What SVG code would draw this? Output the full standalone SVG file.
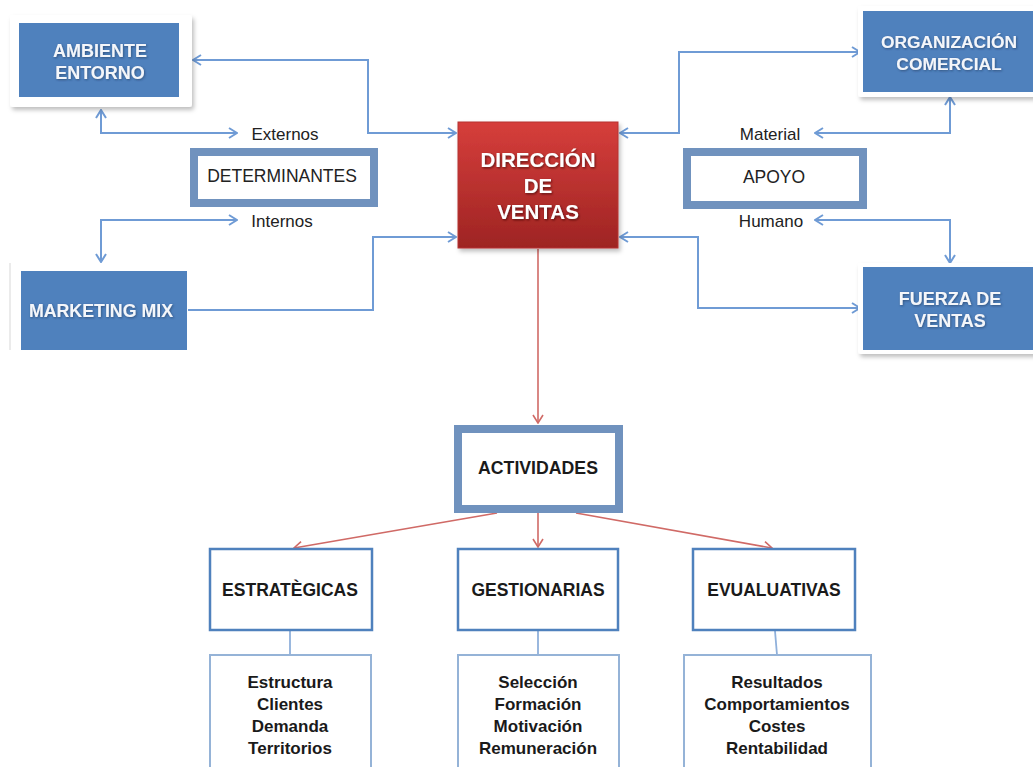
<svg xmlns="http://www.w3.org/2000/svg" width="1033" height="767" viewBox="0 0 1033 767">
  <defs>
    <style>
      .blue { fill: #4f81bd; }
      .frame { fill: #ffffff; filter: url(#soft); }
      .wt { font-family: "Liberation Sans", Arial, sans-serif; font-weight: bold; fill: #f4f6fa; text-anchor: middle; filter: url(#glow); }
      .bt { font-family: "Liberation Sans", Arial, sans-serif; font-weight: bold; fill: #1a1a1a; text-anchor: middle; }
      .nt { font-family: "Liberation Sans", Arial, sans-serif; fill: #222222; text-anchor: middle; }
      .thick { fill: #ffffff; stroke: #7092be; stroke-width: 8; }
      .thin { fill: #ffffff; stroke: #4f81bd; stroke-width: 2.5; }
      .detail { fill: #ffffff; stroke: #95b3d7; stroke-width: 2; }
      .cb { fill: none; stroke: #6f9bd5; stroke-width: 2; }
      .cr { fill: none; stroke: #d06a66; stroke-width: 1.6; }
      .cl { fill: none; stroke: #8fb0db; stroke-width: 1.8; }
    </style>
    <linearGradient id="red" x1="0" y1="0" x2="0" y2="1">
      <stop offset="0" stop-color="#d63e3b"/>
      <stop offset="1" stop-color="#9e2423"/>
    </linearGradient>
    <filter id="soft" x="-10%" y="-10%" width="125%" height="130%">
      <feDropShadow dx="2" dy="3" stdDeviation="2" flood-color="#000" flood-opacity="0.25"/>
    </filter>
    <filter id="glow" x="-5%" y="-20%" width="110%" height="150%">
      <feDropShadow dx="0.8" dy="1" stdDeviation="0.8" flood-color="#1f3554" flood-opacity="0.6"/>
    </filter>
    <filter id="dshadow" x="-5%" y="-20%" width="110%" height="150%">
      <feDropShadow dx="1" dy="1.2" stdDeviation="1" flood-color="#4a0f0f" flood-opacity="0.8"/>
    </filter>
    <marker id="ab" viewBox="0 0 10 12" refX="9" refY="6" markerWidth="10" markerHeight="12" markerUnits="userSpaceOnUse" orient="auto-start-reverse">
      <path d="M1,1 L9,6 L1,11" fill="none" stroke="#6f9bd5" stroke-width="2"/>
    </marker>
    <marker id="ar" viewBox="0 0 10 12" refX="9" refY="6" markerWidth="10" markerHeight="12" markerUnits="userSpaceOnUse" orient="auto">
      <path d="M1,1 L9,6 L1,11" fill="none" stroke="#d06a66" stroke-width="1.6"/>
    </marker>
  </defs>

  <rect width="1033" height="767" fill="#ffffff"/>

  <!-- connectors -->
  <g id="connectors">
    <path class="cb" d="M193,60 H368 V133 H456" marker-start="url(#ab)" marker-end="url(#ab)"/>
    <path class="cb" d="M101,110 V133 H237" marker-start="url(#ab)" marker-end="url(#ab)"/>
    <path class="cb" d="M237,220 H101 V262" marker-start="url(#ab)" marker-end="url(#ab)"/>
    <path class="cb" d="M188,310 H373 V237 H456" marker-end="url(#ab)"/>
    <path class="cb" d="M620,133 H679 V52 H860" marker-start="url(#ab)" marker-end="url(#ab)"/>
    <path class="cb" d="M815,133 H950 V97" marker-start="url(#ab)" marker-end="url(#ab)"/>
    <path class="cb" d="M815,220 H950 V263" marker-start="url(#ab)" marker-end="url(#ab)"/>
    <path class="cb" d="M620,237 H698 V308 H860" marker-start="url(#ab)" marker-end="url(#ab)"/>
    <path class="cr" d="M538,249 V423" marker-end="url(#ar)"/>
    <path class="cr" d="M538,513 V547" marker-end="url(#ar)"/>
    <path class="cr" d="M497,513 L294,548" marker-end="url(#ar)"/>
    <path class="cr" d="M576,513 L772,548" marker-end="url(#ar)"/>
    <path class="cl" d="M290,631 V655"/>
    <path class="cl" d="M538,631 V655"/>
    <path class="cl" d="M775,631 L777,655"/>
  </g>

  <g id="ambiente">
    <rect class="frame" x="10" y="15" width="182" height="92" rx="3"/>
    <rect class="blue" x="19" y="23" width="160" height="74"/>
    <text class="wt" x="100" y="57" font-size="18">AMBIENTE</text>
    <text class="wt" x="100" y="79" font-size="18">ENTORNO</text>
  </g>

  <g id="determinantes">
    <rect class="thick" x="194" y="152" width="180" height="51"/>
    <text class="nt" x="282" y="182" font-size="17.5">DETERMINANTES</text>
  </g>
  <text class="nt" x="285" y="140" font-size="17">Externos</text>
  <text class="nt" x="282" y="227" font-size="17">Internos</text>

  <g id="marketing">
    <line x1="10" y1="263" x2="10" y2="350" stroke="#e4e4e4" stroke-width="1.5"/>
    <rect class="blue" x="21" y="271" width="166" height="79"/>
    <text class="wt" x="101" y="317" font-size="17.8">MARKETING MIX</text>
  </g>

  <g id="direccion">
    <rect x="458" y="122" width="160" height="126" fill="url(#red)" stroke="#b53431" stroke-width="1" filter="url(#soft)"/>
    <text x="538" y="167" font-size="20.5" font-family="Liberation Sans, Arial, sans-serif" font-weight="bold" fill="#ffffff" text-anchor="middle" filter="url(#dshadow)">DIRECCIÓN</text>
    <text x="538" y="193" font-size="20.5" font-family="Liberation Sans, Arial, sans-serif" font-weight="bold" fill="#ffffff" text-anchor="middle" filter="url(#dshadow)">DE</text>
    <text x="538" y="219" font-size="20.5" font-family="Liberation Sans, Arial, sans-serif" font-weight="bold" fill="#ffffff" text-anchor="middle" filter="url(#dshadow)">VENTAS</text>
  </g>

  <g id="organizacion">
    <rect class="frame" x="858" y="6" width="180" height="91" rx="3"/>
    <rect class="blue" x="863" y="11" width="170" height="81"/>
    <text class="wt" x="949" y="48" font-size="17.4">ORGANIZACIÓN</text>
    <text class="wt" x="949" y="70" font-size="17.4">COMERCIAL</text>
  </g>

  <g id="apoyo">
    <rect class="thick" x="687" y="152" width="176" height="53"/>
    <text class="nt" x="774" y="183" font-size="17.5">APOYO</text>
  </g>
  <text class="nt" x="770" y="140" font-size="17">Material</text>
  <text class="nt" x="771" y="227" font-size="17">Humano</text>

  <g id="fuerza">
    <rect class="frame" x="858" y="263" width="180" height="91" rx="3"/>
    <rect class="blue" x="863" y="267" width="170" height="83"/>
    <text class="wt" x="950" y="305" font-size="18">FUERZA DE</text>
    <text class="wt" x="950" y="327" font-size="18">VENTAS</text>
  </g>

  <g id="actividades">
    <rect class="thick" x="458" y="429" width="161" height="80"/>
    <text class="bt" x="538" y="474" font-size="17.7">ACTIVIDADES</text>
  </g>

  <g id="estrategicas">
    <rect class="thin" x="210" y="549" width="162" height="81"/>
    <text class="bt" x="290" y="596" font-size="17.5">ESTRATÈGICAS</text>
  </g>
  <g id="gestionarias">
    <rect class="thin" x="458" y="549" width="160" height="81"/>
    <text class="bt" x="538" y="596" font-size="17.5">GESTIONARIAS</text>
  </g>
  <g id="evaluativas">
    <rect class="thin" x="693" y="549" width="162" height="81"/>
    <text class="bt" x="774" y="596" font-size="17.5">EVUALUATIVAS</text>
  </g>

  <g id="estrategicas-items">
    <rect class="detail" x="210" y="655" width="161" height="120"/>
    <text class="bt" x="290" y="688" font-size="17">Estructura</text>
    <text class="bt" x="290" y="710" font-size="17">Clientes</text>
    <text class="bt" x="290" y="732" font-size="17">Demanda</text>
    <text class="bt" x="290" y="754" font-size="17">Territorios</text>
  </g>
  <g id="gestionarias-items">
    <rect class="detail" x="458" y="655" width="161" height="120"/>
    <text class="bt" x="538" y="688" font-size="17">Selección</text>
    <text class="bt" x="538" y="710" font-size="17">Formación</text>
    <text class="bt" x="538" y="732" font-size="17">Motivación</text>
    <text class="bt" x="538" y="754" font-size="17">Remuneración</text>
  </g>
  <g id="evaluativas-items">
    <rect class="detail" x="684" y="655" width="187" height="120"/>
    <text class="bt" x="777" y="688" font-size="17">Resultados</text>
    <text class="bt" x="777" y="710" font-size="17">Comportamientos</text>
    <text class="bt" x="777" y="732" font-size="17">Costes</text>
    <text class="bt" x="777" y="754" font-size="17">Rentabilidad</text>
  </g>
</svg>
